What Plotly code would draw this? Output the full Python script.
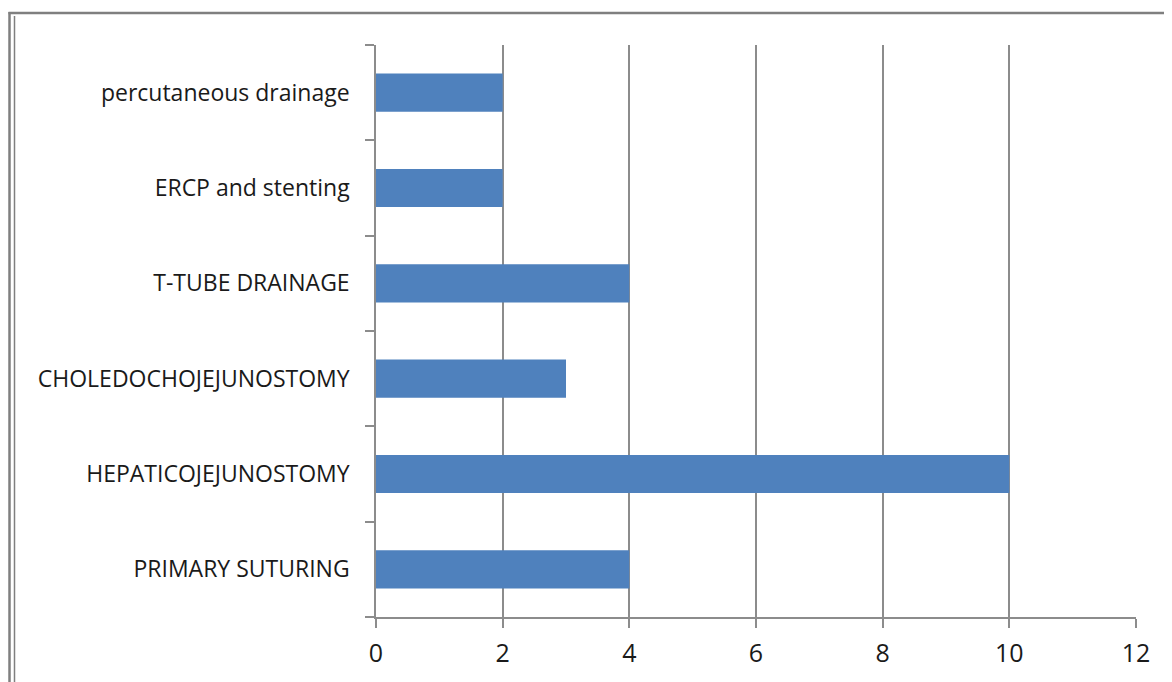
import plotly.graph_objects as go

categories = ["PRIMARY SUTURING", "HEPATICOJEJUNOSTOMY", "CHOLEDOCHOJEJUNOSTOMY",
              "T-TUBE DRAINAGE", "ERCP and stenting", "percutaneous drainage"]
counts = [4, 10, 3, 4, 2, 2]
x_ticks = [0, 2, 4, 6, 8, 10, 12]

# page body has an 8px margin, so the figure is drawn a bit smaller
OFF = 8
W, H = 1172 - 2 * OFF, 682 - OFF
L, R, T, B = 376 - OFF, 36 - OFF, 45 - OFF, 65
pw, ph = W - L - R, H - T - B


def px_x(x):
    return (x - OFF - L) / pw


def px_y(y):
    return (H - B - (y - OFF)) / ph


fig = go.Figure(go.Bar(
    x=counts,
    y=categories,
    orientation="h",
    marker=dict(color="#4F81BD", line=dict(width=0)),
    width=0.4,
))

grey = "#8C8C8C"
frame = "#7f7f7f"
fig.update_layout(
    width=W, height=H,
    margin=dict(l=L, r=R, t=T, b=B),
    paper_bgcolor="white",
    plot_bgcolor="white",
    font=dict(family="Open Sans, Liberation Sans, sans-serif", size=23, color="#1a1a1a"),
    showlegend=False,
    xaxis=dict(
        range=[0, 12], tickvals=x_ticks, showgrid=True, gridcolor=grey, gridwidth=1.5,
        zeroline=False, showline=True, linecolor=grey, linewidth=1.5,
        ticks="outside", ticklen=9, tickcolor=grey, tickwidth=1.5,
        ticklabelstandoff=4, tickfont=dict(size=25), fixedrange=True,
    ),
    yaxis=dict(
        categoryorder="array", categoryarray=categories,
        showline=True, linecolor=grey, linewidth=1.5,
        ticks="outside", tickson="boundaries", ticklen=9, tickcolor=grey, tickwidth=1.5,
        ticklabelstandoff=20, showgrid=False, fixedrange=True,
    ),
    shapes=[
        dict(type="line", xref="paper", yref="paper",
             x0=px_x(8.5), x1=px_x(1200), y0=px_y(13), y1=px_y(13),
             line=dict(color=frame, width=2.5)),
        dict(type="line", xref="paper", yref="paper",
             x0=px_x(9.5), x1=px_x(9.5), y0=px_y(12), y1=px_y(720),
             line=dict(color=frame, width=2.5)),
        dict(type="line", xref="paper", yref="paper",
             x0=px_x(14.5), x1=px_x(14.5), y0=px_y(16), y1=px_y(720),
             line=dict(color=frame, width=1.5)),
    ],
)

fig.write_html("out.html")
